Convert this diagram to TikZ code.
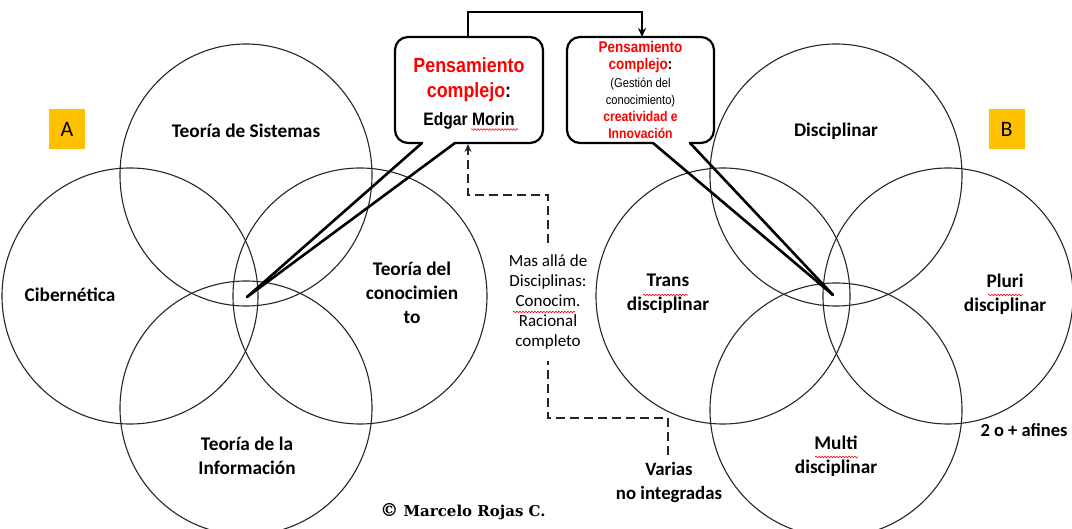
\documentclass[tikz,border=0pt]{standalone}
\usepackage{fontspec}
\setmainfont{Carlito}
\newfontfamily\arialn[FakeStretch=0.87]{Liberation Sans}
\newfontfamily\serifb{DejaVu Serif}
\usetikzlibrary{arrows.meta,decorations.pathmorphing}
\definecolor{ambar}{HTML}{FFC000}
\tikzset{
  circ/.style={draw=black!85, line width=1.1pt},
  lbl/.style={align=center, font=\bfseries\fontsize{19.3}{24}\selectfont, inner sep=0pt},
  callout/.style={draw=black, line width=2.2pt, rounded corners=13pt},
  tail/.style={draw=black, line width=2.6pt, line cap=round},
  tag/.style={fill=ambar, minimum width=36pt, minimum height=40pt, inner sep=0pt, font=\fontsize{22}{24}\selectfont},
  dashline/.style={draw=black!85, line width=2pt, dash pattern=on 9pt off 5pt},
  wavy/.style={draw=red, line width=0.6pt, decorate, decoration={snake, amplitude=0.8pt, segment length=3pt}},
}
\begin{document}
\begin{tikzpicture}[x=1pt, y=-1pt]
\useasboundingbox (0,0) rectangle (1072,529);
\begin{scope}
\clip (0,0) rectangle (1072,529);
% left group
\draw[circ] (246,175) ellipse [x radius=126, y radius=131];
\draw[circ] (130,296) ellipse [x radius=128, y radius=128];
\draw[circ] (360,296) ellipse [x radius=127, y radius=128];
\draw[circ] (246,408) ellipse [x radius=126, y radius=127];
% right group
\draw[circ] (836,175) ellipse [x radius=126, y radius=131];
\draw[circ] (723,296) ellipse [x radius=127, y radius=128];
\draw[circ] (948,296) ellipse [x radius=125, y radius=128];
\draw[circ] (836,410) ellipse [x radius=126, y radius=127];
\end{scope}

% labels in circles
\node[lbl] (ts) at (246,131) {Teoría de Sistemas};
\node[lbl] (cib) at (70,295) {Cibernética};
\node[lbl] (tc) at (412,293) {Teoría del\\conocimien\\to};
\node[lbl] (ti) at (247,456) {Teoría de la\\Información};
\node[lbl] (dis) at (836,131) {Disciplinar};
\node[lbl] (tra) at (668,294) {Trans\\disciplinar};
\node[lbl] (plu) at (1005,294) {Pluri\\disciplinar};
\node[lbl] (mul) at (836,456) {Multi\\disciplinar};
\node[lbl, font=\bfseries\fontsize{18.5}{20}\selectfont] (af) at (1024,430) {2 o + afines};

% tags
\node[tag] (A) at (67,129) {A};
\node[tag] (B) at (1006.5,129) {B};

% convergence points
\coordinate (pL) at (247,297);
\coordinate (pR) at (833,295);
\coordinate (lt1) at (422,143);
\coordinate (lt2) at (455,143);
\coordinate (rt1) at (653,143);
\coordinate (rt2) at (690,143);

% left callout
\draw[callout] (lt1) -- (395,143) -- (395,37) -- (543,37) -- (543,143) -- (lt2);
\draw[tail] (lt1) -- (pL);
\draw[tail] (lt2) -- (pL);
\node[anchor=base, inner sep=0pt, font=\arialn\bfseries\fontsize{20.5}{24}\selectfont, text=red] (p1) at (469,73) {Pensamiento};
\node[anchor=base, inner sep=0pt, font=\arialn\bfseries\fontsize{20.5}{24}\selectfont] (p2) at (469,98) {\textcolor{red}{complejo}:};
\node[anchor=base, inner sep=0pt, font=\arialn\bfseries\fontsize{18}{22}\selectfont] (p3) at (469,126) {Edgar Morin};
\draw[wavy] (471,129.5) -- (518,129.5);

% right callout
\draw[callout] (rt2) -- (714,143) -- (714,37) -- (567,37) -- (567,143) -- (rt1);
\draw[tail] (rt1) -- (pR);
\draw[tail] (rt2) -- (pR);
\node[anchor=base, inner sep=0pt, font=\arialn\bfseries\fontsize{15.5}{18}\selectfont, text=red] (q1) at (640.5,53) {Pensamiento};
\node[anchor=base, inner sep=0pt, font=\arialn\bfseries\fontsize{15.5}{18}\selectfont] (q2) at (640.5,70) {\textcolor{red}{complejo}:};
\node[anchor=base, inner sep=0pt, font=\arialn\fontsize{12.8}{15}\selectfont] (q3) at (640.5,88) {(Gestión del};
\node[anchor=base, inner sep=0pt, font=\arialn\fontsize{12.8}{15}\selectfont] (q4) at (640.5,105) {conocimiento)};
\node[anchor=base, inner sep=0pt, font=\arialn\bfseries\fontsize{14}{16}\selectfont, text=red] (q5) at (640.5,122) {creatividad e};
\node[anchor=base, inner sep=0pt, font=\arialn\bfseries\fontsize{14}{16}\selectfont, text=red] (q6) at (640.5,139) {Innovación};

% top connector
\coordinate (lb) at (468,37);
\coordinate (rb) at (642,37);
\draw[line width=2pt, -{Stealth[length=9pt, width=8pt]}] (lb) -- (468,12) -- (642,12) -- (rb);

% dashed connector
\node[fill=white, align=center, inner sep=0pt, minimum height=118pt, font=\fontsize{17}{20}\selectfont] (mas) at (548,302)
  {Mas allá de\\Disciplinas:\\Conocim.\\Racional\\completo};
\node[lbl, font=\bfseries\fontsize{18.8}{24}\selectfont] (var) at (669,482) {Varias\\no integradas};
\coordinate (d0) at (668,455);
\coordinate (d1) at (668,418);
\coordinate (d2) at (548,418);
\coordinate (d3) at (548,195);
\coordinate (d4) at (468,195);
\coordinate (d5) at (468,144);
\draw[dashline] (d0) -- (d1) -- (d2) -- (mas.south);
\draw[dashline, -{Stealth[length=8pt, width=7pt]}] (mas.north) -- (d3) -- (d4) -- (d5);

% spelling marks
\draw[wavy] (643,295) -- (688,295);
\draw[wavy] (513,312) -- (575,312);
\draw[wavy] (988,295) -- (1022,295);
\draw[wavy] (815,457) -- (858,457);

% copyright
\node[font=\serifb\bfseries\fontsize{15}{17}\selectfont, inner sep=0pt] (cr) at (463,512) {\fontsize{18}{18}\selectfont©\fontsize{15}{17}\selectfont\ Marcelo Rojas C.};
\end{tikzpicture}
\end{document}
